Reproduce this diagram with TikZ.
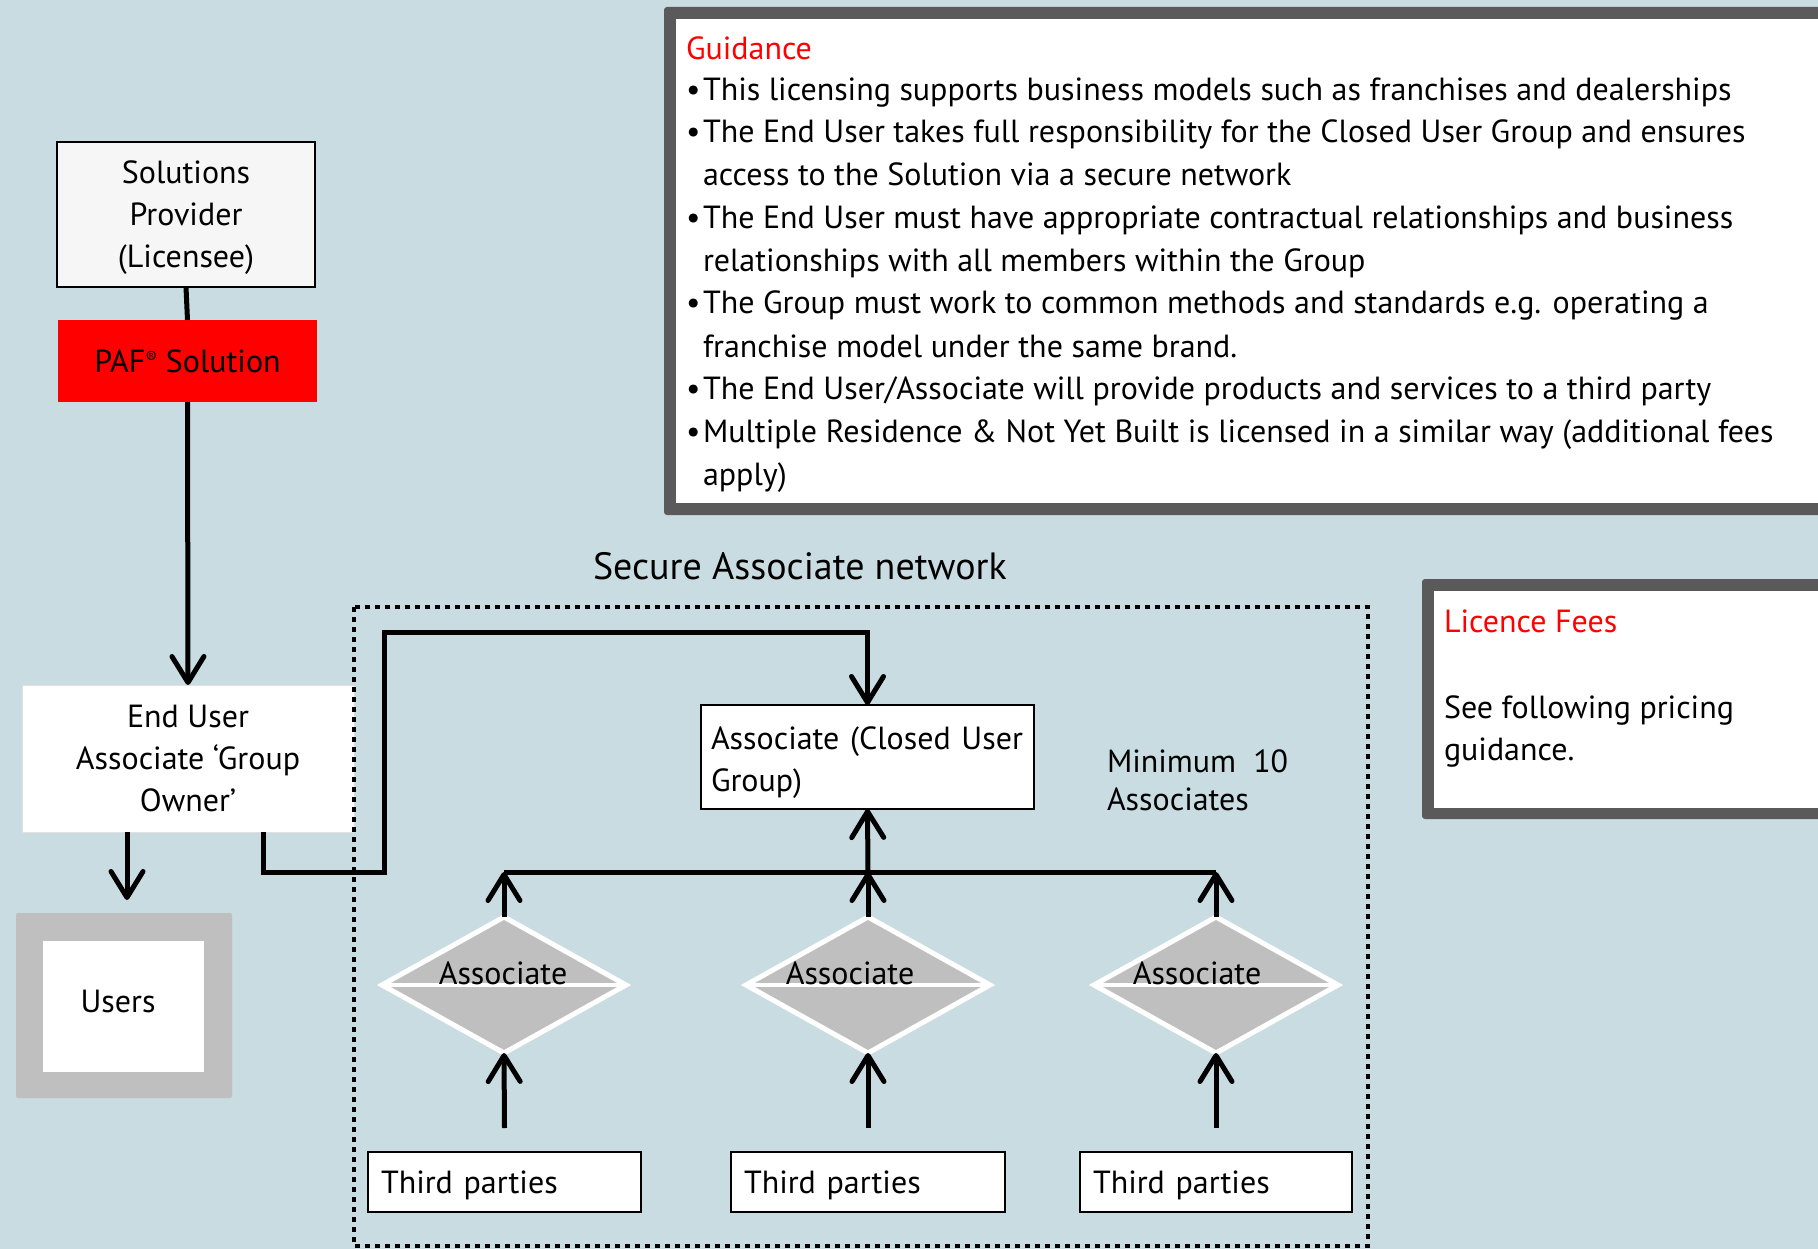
\documentclass[tikz,border=0pt]{standalone}
\usepackage{fontspec}
\setmainfont{PT Sans}
\usetikzlibrary{arrows.meta,shapes.geometric}
\definecolor{bg}{HTML}{C9DCE1}
\definecolor{framegray}{HTML}{5A5A5A}
\definecolor{gfill}{HTML}{BFBFBF}
\definecolor{spfill}{HTML}{F6F6F6}
\definecolor{redfill}{HTML}{FF0000}
\begin{document}
\begin{tikzpicture}[x=1pt,y=-1pt,
  every node/.style={font=\fontsize{32}{42}\selectfont, inner sep=0pt, outer sep=0pt},
  conn/.style={line width=5pt, draw=black},
  arr/.style={conn, -{Straight Barb[length=26pt,width=32pt,round]}},
  plainbox/.style={rectangle, draw=black, line width=1.5pt, fill=white},
  assoc/.style={diamond, draw=white, line width=5pt, fill=gfill, minimum width=244pt, minimum height=136pt},
  txt/.style={anchor=base west},
  ctxt/.style={anchor=base},
  redtxt/.style={anchor=base west, text=redfill},
  dotbox/.style={draw=black, line width=4.5pt, dash pattern=on 5pt off 5pt}
]
\useasboundingbox (0,0) rectangle (1818,1249);
\clip (0,0) rectangle (1818,1249);
\fill[bg] (0,0) rectangle (1818,1249);

% Guidance panel
\fill[framegray, rounded corners=3pt] (664,7) rectangle (1840,515);
\fill[white] (676,19) rectangle (1840,503);
\node[redtxt] (gh) at (686,60) {Guidance};
\node[txt] (g1) at (686,101) {\makebox[17pt][l]{•}This licensing supports business models such as franchises and dealerships};
\node[txt] (g2) at (686,143) {\makebox[17pt][l]{•}The End User takes full responsibility for the Closed User Group and ensures};
\node[txt] (g3) at (686,186) {\hspace*{17pt}access to the Solution via a secure network};
\node[txt] (g4) at (686,229) {\makebox[17pt][l]{•}The End User must have appropriate contractual relationships and business};
\node[txt] (g5) at (686,272) {\hspace*{17pt}relationships with all members within the Group};
\node[txt] (g6) at (686,314) {\makebox[17pt][l]{•}The Group must work to common methods and standards e.g. operating a};
\node[txt] (g7) at (686,357) {\hspace*{17pt}franchise model under the same brand.};
\node[txt] (g8) at (686,399) {\makebox[17pt][l]{•}The End User/Associate will provide products and services to a third party};
\node[txt] (g9) at (686,442) {\makebox[17pt][l]{•}Multiple Residence \& Not Yet Built is licensed in a similar way (additional fees};
\node[txt] (g10) at (686,485) {\hspace*{17pt}apply)};

% Licence fees panel
\fill[framegray, rounded corners=3pt] (1422,579) rectangle (1840,819);
\fill[white] (1434,591) rectangle (1840,808);
\node[redtxt] (lf) at (1444,632) {Licence Fees};
\node[txt] (lf1) at (1444,718) {See following pricing};
\node[txt] (lf2) at (1444,760) {guidance.};

% Left column
\node[rectangle, draw=black, line width=1.5pt, fill=spfill, minimum width=258pt, minimum height=145pt, align=center] (sp) at (186,214.5) {\rule{0pt}{30pt}Solutions\\Provider\\(Licensee)};
\node[rectangle, fill=redfill, minimum width=259pt, minimum height=82pt] (paf) at (187.5,361) {PAF\raisebox{9pt}{\fontsize{17}{17}\selectfont ®} Solution};
\node[rectangle, fill=white, draw=white!88!black, line width=1pt, minimum width=332pt, minimum height=147pt, align=center] (eu) at (188,758.5) {End User\\Associate ‘Group\\Owner’};
\node[rectangle, fill=gfill, rounded corners=2pt, minimum width=216pt, minimum height=185pt] (usr) at (124,1005.5) {};
\node[rectangle, fill=white, minimum width=161pt, minimum height=131pt] (usrin) at (123.5,1006.5) {};
\node[ctxt] (usrtxt) at (118,1012) {Users};

% Secure network area
\node[anchor=base west, font=\fontsize{38}{46}\selectfont] (title) at (593,579) {Secure Associate network};
\draw[dotbox] (354,607) rectangle (1368,1246);

\node[plainbox, line width=2pt, minimum width=333pt, minimum height=104pt, text width=313pt, align=left] (cug) at (867.5,757) {\rule{0pt}{34pt}Associate (Closed User\\Group)};

\node[txt] (min1) at (1107,772) {Minimum\ \ 10};
\node[txt] (min2) at (1107,810) {Associates};

\node[assoc] (d1) at (504,985) {};
\node[assoc] (d2) at (868,985) {};
\node[assoc] (d3) at (1216,985) {};
\foreach \d in {d1,d2,d3} { \draw[white, line width=4pt] (\d.west) -- (\d.east); }
\node[ctxt] (a1) at (503,984) {Associate};
\node[ctxt] (a2) at (850,984) {Associate};
\node[ctxt] (a3) at (1197,984) {Associate};

\node[plainbox, minimum width=273pt, minimum height=60pt, text width=247pt, align=left] (tp1) at (504.5,1182) {\rule{0pt}{30pt}Third parties};
\node[plainbox, minimum width=274pt, minimum height=60pt, text width=248pt, align=left] (tp2) at (868,1182) {\rule{0pt}{30pt}Third parties};
\node[plainbox, minimum width=272pt, minimum height=60pt, text width=246pt, align=left] (tp3) at (1216,1182) {\rule{0pt}{30pt}Third parties};

% coordinates for connector bends
\coordinate (ua) at (127,900);
\coordinate (k1) at (263,872);
\coordinate (k2) at (384,632);
\coordinate (bus) at (868,872);
\coordinate (s1) at (504.5,1128);
\coordinate (s2) at (868,1128);
\coordinate (s3) at (1216,1128);

% connectors
\draw[conn] (sp.south) -- (paf.north);
\draw[arr] (paf.south) -- (eu.north);
\draw[arr] (eu.south -| ua) -- (ua);
\draw[arr] (eu.south -| k1) -- (k1) -| (k2) -| (cug.north);
\draw[conn] (d1.north |- bus) -- (d3.north |- bus);
\draw[arr] (bus) -- (cug.south);
\draw[arr] (d1.north) -- (d1.north |- bus);
\draw[arr] (d2.north) -- (d2.north |- bus);
\draw[arr] (d3.north) -- (d3.north |- bus);
\draw[arr] (s1) -- (d1.south);
\draw[arr] (s2) -- (d2.south);
\draw[arr] (s3) -- (d3.south);
\end{tikzpicture}
\end{document}
